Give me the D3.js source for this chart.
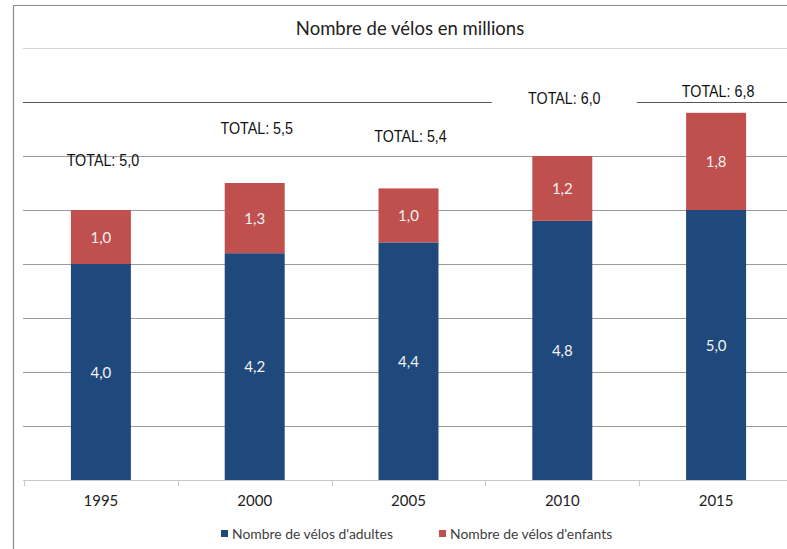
<!DOCTYPE html>
<html>
<head>
<meta charset="utf-8">
<script src="https://cdn.jsdelivr.net/npm/d3@7"></script>
<style>
  html, body { margin: 0; padding: 0; background: #fff; }
  svg { display: block; }
</style>
</head>
<body>
<svg id="chart" width="787" height="549"></svg>
<script>
// ---- data ----
const years = ["1995", "2000", "2005", "2010", "2015"];
const adults = [4.0, 4.2, 4.4, 4.8, 5.0];
const children = [1.0, 1.3, 1.0, 1.2, 1.8];
const totals = [5.0, 5.5, 5.4, 6.0, 6.8];
const yTicks = [1, 2, 3, 4, 5, 6, 7, 8];
const seriesNames = ["Nombre de vélos d'adultes", "Nombre de vélos d'enfants"];
const titleText = "Nombre de vélos en millions";

// ---- layout (not data) ----
const totalLift = [44, 49, 46, 52, 16];   // px the TOTAL label sits above bar top
const colors = ["#1f497d", "#c0504d"];

const svg = d3.select("#chart");
const W = 787, H = 549;
const plot = { left: 24, right: 793, top: 48, bottom: 480 };

const x = d3.scaleBand().domain(years)
  .range([plot.left, plot.right])
  .paddingInner(0.61).paddingOuter(0.305);
const y = d3.scaleLinear().domain([0, 8]).range([plot.bottom, plot.top]);

const fr = d3.formatLocale({ decimal: ",", thousands: " ", grouping: [3], currency: ["", "€"] });
const fmt = fr.format(".1f");

// frame
svg.append("path")
  .attr("d", `M13.5,${H} L13.5,5.5 L${W},5.5`)
  .attr("fill", "none").attr("stroke", "#8a8a8a").attr("stroke-width", 1.2);

// title
svg.append("text")
  .attr("x", 410).attr("y", 35)
  .attr("text-anchor", "middle")
  .attr("font-family", "Lato, 'Open Sans', sans-serif")
  .attr("font-size", 18.5)
  .attr("fill", "#222")
  .text(titleText);

// gridlines
const gridColor = v => v === 8 ? "#d8d8d8" : (v === 7 ? "#555" : "#9a9a9a");
svg.append("g").selectAll("line").data(yTicks).join("line")
  .attr("x1", plot.left - 1).attr("x2", W)
  .attr("y1", d => Math.round(y(d)) + 0.5).attr("y2", d => Math.round(y(d)) + 0.5)
  .attr("stroke", d => gridColor(d)).attr("stroke-width", 1);

// stacked bars
const stackData = years.map((yr, i) => ({ year: yr, a: adults[i], c: children[i] }));
const stack = d3.stack().keys(["a", "c"])(stackData);
const bw = x.bandwidth();

svg.append("g").selectAll("g").data(stack).join("g")
  .attr("fill", (d, i) => colors[i])
  .selectAll("rect").data(d => d).join("rect")
  .attr("x", d => x(d.data.year))
  .attr("y", d => y(d[1]))
  .attr("width", bw)
  .attr("height", d => y(d[0]) - y(d[1]));

// value labels
svg.append("g").selectAll("g").data(stack).join("g")
  .selectAll("text").data(d => d.map(p => ({ p, key: d.key }))).join("text")
  .attr("x", d => x(d.p.data.year) + bw / 2)
  .attr("y", d => (y(d.p[0]) + y(d.p[1])) / 2 + 5.5)
  .attr("text-anchor", "middle")
  .attr("font-family", "Lato, 'Open Sans', sans-serif")
  .attr("font-size", 15)
  .attr("fill", "#f2f2f2")
  .text(d => fmt(d.p[1] - d.p[0]));

// x axis baseline + ticks at band boundaries
const step = x.step();
const gap = step * x.paddingInner();
const bounds = years.map(yr => x(yr) - gap / 2).concat([x(years[years.length - 1]) + bw + gap / 2]);
svg.append("line")
  .attr("x1", plot.left - 1).attr("x2", W)
  .attr("y1", plot.bottom + 0.5).attr("y2", plot.bottom + 0.5)
  .attr("stroke", "#c8c8c8");
svg.append("g").selectAll("line").data(bounds).join("line")
  .attr("x1", d => Math.round(d) + 0.5).attr("x2", d => Math.round(d) + 0.5)
  .attr("y1", plot.bottom).attr("y2", plot.bottom + 6)
  .attr("stroke", "#c8c8c8");

// category labels
const xAxis = d3.axisBottom(x).tickSize(0).tickPadding(0);
const gx = svg.append("g").attr("transform", `translate(0,${plot.bottom})`).call(xAxis);
gx.select(".domain").remove();
gx.selectAll("text")
  .attr("y", 26).attr("dy", 0)
  .attr("font-family", "Lato, 'Open Sans', sans-serif")
  .attr("font-size", 15)
  .attr("fill", "#222");

// TOTAL labels
const tg = svg.append("g");
years.forEach((yr, i) => {
  const cx = x(yr) + bw / 2 + 2;
  const by = y(totals[i]) - totalLift[i];
  if (i === 3) {
    tg.append("rect")
      .attr("x", cx - 72.5).attr("y", by - 14).attr("width", 145).attr("height", 20)
      .attr("fill", "#fff");
  }
  tg.append("text")
    .attr("transform", `translate(${cx},${by}) scale(1,1.17)`)
    .attr("text-anchor", "middle")
    .attr("font-family", "'Liberation Sans', Arial, sans-serif")
    .attr("font-size", 14.3)
    .attr("fill", "#111")
    .text("TOTAL: " + fmt(totals[i]));
});

// legend
const legX = [221, 439];
const lg = svg.append("g");
seriesNames.forEach((name, i) => {
  lg.append("rect").attr("x", legX[i]).attr("y", 530).attr("width", 7).attr("height", 7)
    .attr("fill", colors[i]);
  lg.append("text").attr("x", legX[i] + 11).attr("y", 538.5)
    .attr("font-family", "Lato, 'Open Sans', sans-serif")
    .attr("font-size", 13.9)
    .attr("fill", "#404040")
    .text(name);
});
</script>
</body>
</html>
